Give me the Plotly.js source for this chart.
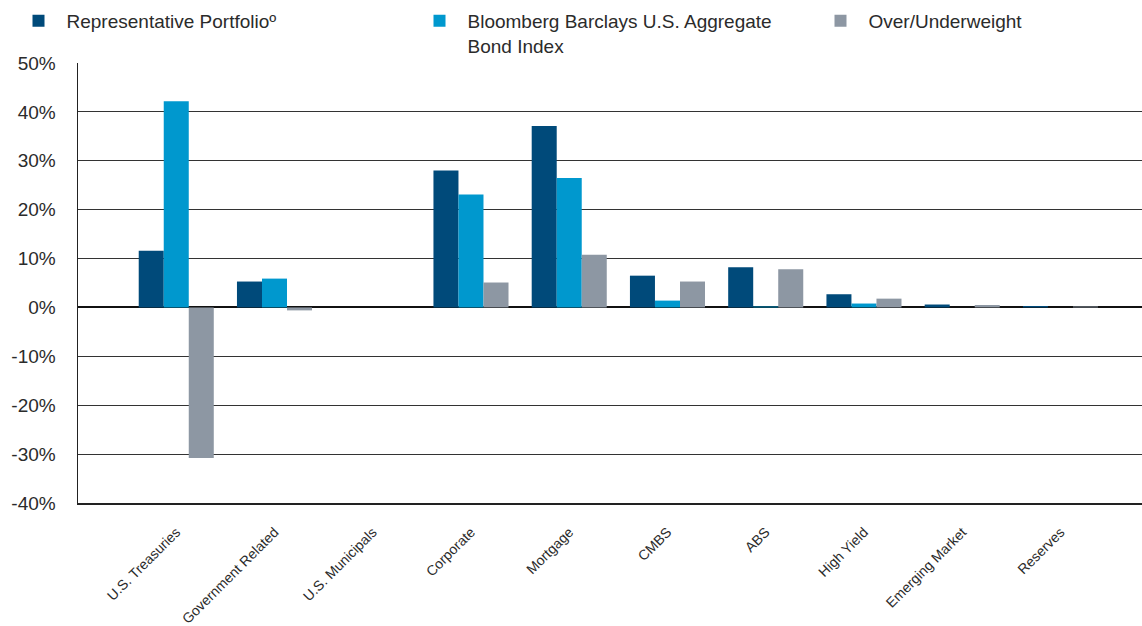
<!DOCTYPE html>
<html><head><meta charset="utf-8">
<script src="https://cdn.plot.ly/plotly-3.0.1.min.js"></script>
<style>html,body{margin:0;padding:0;background:#fff}#chart{width:1142px;height:626px}</style>
</head><body><div id="chart"></div>
<script>
const categories = ["U.S. Treasuries","Government Related","U.S. Municipals","Corporate","Mortgage","CMBS","ABS","High Yield","Emerging Market","Reserves"];
const portfolio = [11.6, 5.3, 0.0, 28.0, 37.1, 6.5, 8.2, 2.7, 0.6, 0.3];
const aggIndex = [42.2, 5.9, 0.0, 23.1, 26.5, 1.4, 0.2, 0.8, 0.0, 0.0];
const overUnder = [-30.8, -0.6, 0.0, 5.1, 10.8, 5.3, 7.8, 1.8, 0.5, 0.2];
const yTickVals = [-40,-30,-20,-10,0,10,20,30,40,50];
const yTickText = ["-40%","-30%","-20%","-10%","0%","10%","20%","30%","40%","50%"];

const font = {family: "Liberation Sans, Arial, sans-serif", color: "#2b2b2b"};
const traces = [
  {type:"bar", name:"Representative Portfolio\u00BA", x:categories, y:portfolio, marker:{color:"#004A7A"}, legendwidth:340},
  {type:"bar", name:"Bloomberg Barclays U.S. Aggregate<br>Bond Index", x:categories, y:aggIndex, marker:{color:"#0098CE"}, legendwidth:340},
  {type:"bar", name:"Over/Underweight", x:categories, y:overUnder, marker:{color:"#8D97A3"}, legendwidth:180}
];
const layout = {
  width:1142, height:626,
  margin:{l:78, r:0, t:63, b:123, autoexpand:false},
  paper_bgcolor:"#fff", plot_bgcolor:"#fff",
  font: Object.assign({size:19}, font),
  barmode:"group", bargap:0.236, bargroupgap:0,
  showlegend:true,
  legend:{orientation:"h", xref:"container", yref:"container", x:10.5/1142, xanchor:"left", y:1 - 2/626, yanchor:"top",
    itemwidth:46, entrywidthmode:"pixels", font:Object.assign({size:19}, font),
    traceorder:"normal", valign:"top", itemclick:false, bgcolor:"rgba(0,0,0,0)"},
  xaxis:{type:"category", range:[-1, 9.83], showgrid:false, zeroline:false,
    showline:true, linecolor:"#222", linewidth:1.5, ticks:"", tickangle:-45, ticklabelstandoff:14,
    tickfont:Object.assign({size:14}, font)},
  yaxis:{range:[-40,50], tickvals:yTickVals, ticktext:yTickText, showgrid:true,
    gridcolor:"#333", gridwidth:1, zeroline:true, zerolinecolor:"#111", zerolinewidth:2,
    showline:true, linecolor:"#222", linewidth:1.5, ticks:"", ticklen:0, ticklabelstandoff:17,
    tickfont:Object.assign({size:19}, font)}
};
Plotly.newPlot("chart", traces, layout, {displayModeBar:false, staticPlot:true});
</script></body></html>
